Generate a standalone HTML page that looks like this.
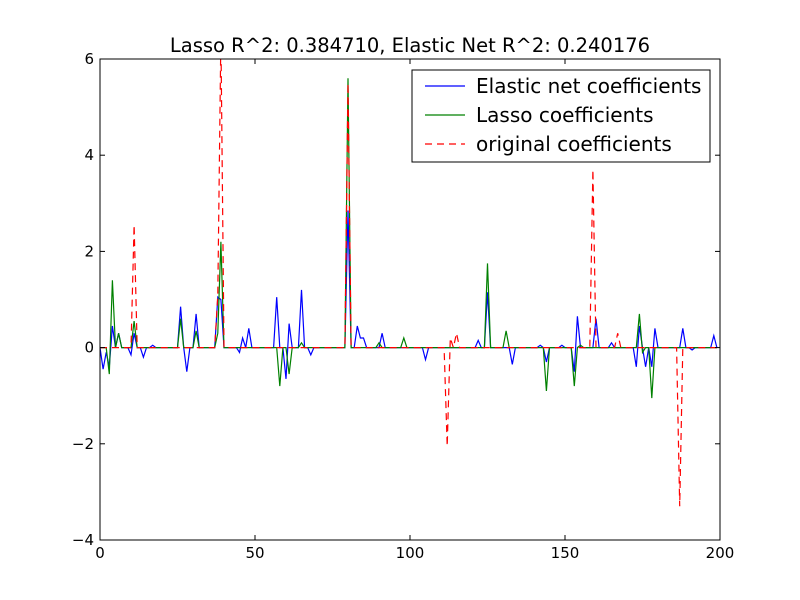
<!DOCTYPE html><html><head><style>body{margin:0;background:#fff}svg{display:block}text{font-family:"DejaVu Sans","Liberation Sans",sans-serif}</style></head><body>
<svg id="s" width="800" height="600" xmlns="http://www.w3.org/2000/svg">
<rect width="800" height="600" fill="#fff"/>
<defs><clipPath id="c"><rect x="100" y="59" width="620" height="481"/></clipPath></defs>
<g id="plot" clip-path="url(#c)"></g>
<rect x="100" y="59" width="620" height="481" fill="none" stroke="#000" stroke-width="1"/>
<g id="ticks" stroke="#000"></g>
<g font-size="15" fill="#000" id="lbl"></g>
<text x="410" y="52" text-anchor="middle" font-size="19.5">Lasso R^2: 0.384710, Elastic Net R^2: 0.240176</text>
<rect x="412" y="70" width="298" height="92" fill="#fff" stroke="#000"/>
<line x1="425" y1="86" x2="465" y2="86" stroke="#0000ff" stroke-width="1.2"/>
<line x1="425" y1="115" x2="465" y2="115" stroke="#008000" stroke-width="1.2"/>
<line x1="425" y1="144" x2="465" y2="144" stroke="#ff0000" stroke-width="1.2" stroke-dasharray="7,5"/>
<text x="476" y="93" font-size="20">Elastic net coefficients</text>
<text x="476" y="122" font-size="20">Lasso coefficients</text>
<text x="476" y="151" font-size="20">original coefficients</text>
</svg>
<script>
var X=i=>100+3.1*i,Y=v=>347.6-48.1*v;
function path(d,col,dash){var a=new Array(200).fill(0);for(var k in d)a[k]=d[k];var s="";for(var i=0;i<200;i++)s+=(i?"L":"M")+X(i).toFixed(1)+","+Y(a[i]).toFixed(1);
var p=document.createElementNS("http://www.w3.org/2000/svg","path");p.setAttribute("d",s);p.setAttribute("fill","none");p.setAttribute("stroke",col);p.setAttribute("stroke-width","1.2");if(dash)p.setAttribute("stroke-dasharray",dash);document.getElementById("plot").appendChild(p);}
path({1:-0.45,2:-0.1,3:-0.4,4:0.45,6:0.3,10:-0.15,11:0.3,14:-0.2,17:0.05,26:0.85,28:-0.5,31:0.7,38:1.05,39:1,45:-0.1,46:0.2,48:0.4,57:1.05,59:0,60:-0.65,61:0.5,65:1.2,68:-0.15,80:2.85,83:0.45,84:0.2,85:0.2,91:0.3,105:-0.25,122:0.15,125:1.15,133:-0.35,142:0.05,144:-0.3,149:0.05,153:-0.5,154:0.65,160:0.6,165:0.1,173:-0.4,174:0.45,176:-0.4,178:-0.4,179:0.4,188:0.4,191:-0.05,198:0.25},"#0000ff");
path({3:-0.55,4:1.4,6:0.3,11:0.55,26:0.6,31:0.35,38:0.3,39:2.2,58:-0.8,61:-0.55,65:0.1,80:5.6,90:0.1,98:0.2,125:1.75,131:0.35,144:-0.9,153:-0.8,155:0.05,174:0.7,175:-0.1,178:-1.05},"#008000");
path({11:2.55,38:1.1,39:6.5,80:5.5,112:-2.05,113:0.2,115:0.3,159:3.7,167:0.3,187:-3.3},"#ff0000","7,5");
var t=document.getElementById("ticks"),l=document.getElementById("lbl"),h="";var hl="";
[0,50,100,150,200].forEach(v=>{var x=X(v);h+=`<line x1="${x}" y1="540" x2="${x}" y2="535"/><line x1="${x}" y1="59" x2="${x}" y2="64"/>`;hl+=`<text x="${x}" y="558" text-anchor="middle">${v}</text>`;});
[-4,-2,0,2,4,6].forEach(v=>{var y=Y(v);h+=`<line x1="100" y1="${y}" x2="105" y2="${y}"/><line x1="720" y1="${y}" x2="715" y2="${y}"/>`;hl+=`<text x="94" y="${y+5}" text-anchor="end">${v<0?"\u2212"+(-v):v}</text>`;});
t.innerHTML=h;l.innerHTML=hl;
</script></body></html>
